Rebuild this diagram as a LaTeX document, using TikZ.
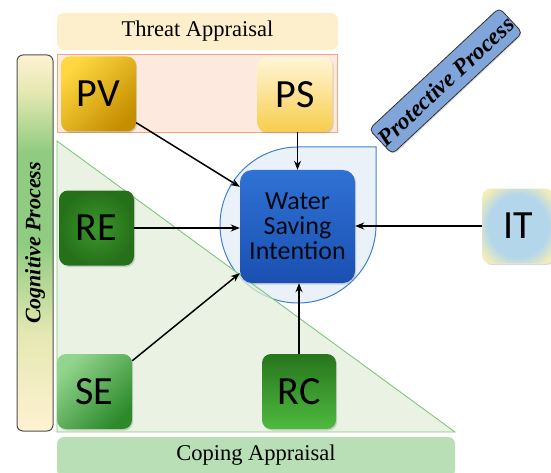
\documentclass[tikz,border=0pt]{standalone}
\usepackage{fontspec}
\setmainfont{Liberation Serif}
\newfontfamily\boxfont{Carlito}
\usetikzlibrary{arrows.meta,shadows}
\definecolor{threatfill}{HTML}{FDEFCB}
\definecolor{salmonfill}{HTML}{FDE9DD}
\definecolor{salmonedge}{HTML}{F6A37E}
\definecolor{trifill}{HTML}{E3EEDA}
\definecolor{triedge}{HTML}{7FC77A}
\definecolor{copefill}{HTML}{B9DFB6}
\definecolor{bluefill}{HTML}{EBF1F9}
\definecolor{blueedge}{HTML}{3C80D2}
\definecolor{wsiA}{HTML}{2F72D4}
\definecolor{wsiB}{HTML}{1A50B2}
\definecolor{wsitext}{HTML}{05080F}
\definecolor{protA}{HTML}{7FA5D9}
\definecolor{protB}{HTML}{C4D5EC}
\definecolor{cogY}{HTML}{FFF2D2}
\definecolor{cogL}{HTML}{E4E8B2}
\definecolor{cogG}{HTML}{8FCB80}
\definecolor{cogborder}{HTML}{505050}
\definecolor{pvA}{HTML}{FFD740}
\definecolor{pvM}{HTML}{FFC200}
\definecolor{pvB}{HTML}{C48E00}
\definecolor{psA}{HTML}{FFF6D8}
\definecolor{psB}{HTML}{F7CD4C}
\definecolor{reA}{HTML}{3A982A}
\definecolor{reB}{HTML}{26701A}
\definecolor{seA}{HTML}{92D48E}
\definecolor{seM}{HTML}{4DB848}
\definecolor{seB}{HTML}{2C8A2A}
\definecolor{rcA}{HTML}{27751C}
\definecolor{rcB}{HTML}{4EBA40}
\definecolor{itA}{HTML}{B4D6EA}
\definecolor{itB}{HTML}{F3EDB6}
\pgfdeclareverticalshading{cogshade}{100bp}{color(0bp)=(cogY); color(25bp)=(cogY); color(38bp)=(cogL); color(50bp)=(cogG); color(62bp)=(cogG); color(70bp)=(cogL); color(75bp)=(cogY); color(100bp)=(cogY)}
\pgfdeclareradialshading{itshade}{\pgfpoint{0bp}{0bp}}{color(0bp)=(itA); color(21bp)=(itA); color(31bp)=(itB); color(50bp)=(itB)}
\tikzset{
  card/.style={rounded corners=9pt, minimum width=75pt, minimum height=75pt, inner sep=0pt,
    font=\boxfont\fontsize{40}{40}\selectfont,
    drop shadow={opacity=0.3, shadow xshift=1.2pt, shadow yshift=-1.5pt}},
  band/.style={rounded corners=7pt, inner sep=0pt, font=\fontsize{22.5}{22.5}\selectfont},
  arr/.style={-{Stealth[length=9pt,width=7pt]}, black},
  slanted/.style={font=\bfseries\itshape\fontsize{22}{22}\selectfont}
}
\begin{document}
\begin{tikzpicture}[x=1pt,y=1pt]
\useasboundingbox (0,0) rectangle (551,472);
% bands
\node[band, fill=threatfill, minimum width=281pt, minimum height=37pt] (threat) at (197.5,440.5) {Threat Appraisal};
\node[fill=salmonfill, draw=salmonedge, line width=1pt, minimum width=280pt, minimum height=78pt, inner sep=0pt] (salmon) at (197,378) {};
\node[band, fill=copefill, minimum width=398pt, minimum height=40pt] (cope) at (256,15) {};
\node[font=\fontsize{22.5}{22.5}\selectfont] (copetext) at (256,17) {Coping Appraisal};
% blue circle-like region
\draw[draw=blueedge, fill=bluefill, line width=1pt] (376,247) -- (376,325) -- (298,325) arc[start angle=90, end angle=360, radius=78pt] -- cycle;
% triangle
\draw[draw=triedge, fill=trifill, fill opacity=0.75, line width=0.9pt] (57,331) -- (57,40) -- (455,40) -- cycle;
% cognitive bar
\node[draw=cogborder, line width=1pt, rounded corners=6pt, minimum width=36pt, minimum height=376pt, inner sep=0pt, shading=cogshade] (cog) at (35,229) {};
\node[slanted, rotate=90] (cogtext) at (35,229) {Cognitive Process};
% cards
\node[card, top color=pvA, middle color=pvM, bottom color=pvB, shading angle=45] (pv) at (98.5,378) {PV};
\node[card, top color=psA, bottom color=psB] (ps) at (295,377.5) {PS};
\node[card, inner color=reA, outer color=reB] (re) at (96.5,244) {RE};
\node[card, top color=seA, middle color=seM, bottom color=seB, shading angle=45] (se) at (94.5,80.5) {SE};
\node[card, top color=rcA, bottom color=rcB, minimum width=74pt] (rc) at (299,80.5) {RC};
\node[card, shading=itshade, draw=itB!80!black!20, minimum width=72pt] (it) at (518,246) {IT};
% central node
\node[rounded corners=12pt, minimum width=115pt, minimum height=113pt, inner sep=0pt,
  top color=wsiA, bottom color=wsiB, align=center, text=wsitext,
  font=\boxfont\fontsize{26}{25}\selectfont,
  drop shadow={opacity=0.3, shadow xshift=1.2pt, shadow yshift=-1.5pt}] (wsi) at (297.5,245.5) {Water\\Saving\\Intention};
% protective process label
\node[slanted, font=\bfseries\itshape\fontsize{23.5}{23.5}\selectfont, draw=black!80, line width=0.8pt, rounded corners=5pt, minimum width=178pt, minimum height=34pt, inner sep=0pt,
  left color=protA, middle color=protB, right color=protA, rotate=43,
  drop shadow={opacity=0.3, shadow xshift=1pt, shadow yshift=-1.2pt}] (prot) at (445.75,391) {Protective Process};
% arrows
\draw[arr, line width=1.5pt] ([yshift=9pt]pv.south east) -- ([yshift=-17pt]wsi.north west);
\draw[arr, line width=0.8pt] (ps.south -| wsi.north) -- (wsi.north);
\draw[arr, line width=2.2pt] (re.east) -- (re.east -| wsi.west);
\draw[arr, line width=1.5pt] ([yshift=-7pt]se.north east) -- ([yshift=10pt]wsi.south west);
\draw[arr, line width=2.2pt] (rc.north) -- (rc.north |- wsi.south);
\draw[arr, line width=1.3pt] (it.west) -- (it.west -| wsi.east);
\end{tikzpicture}
\end{document}
